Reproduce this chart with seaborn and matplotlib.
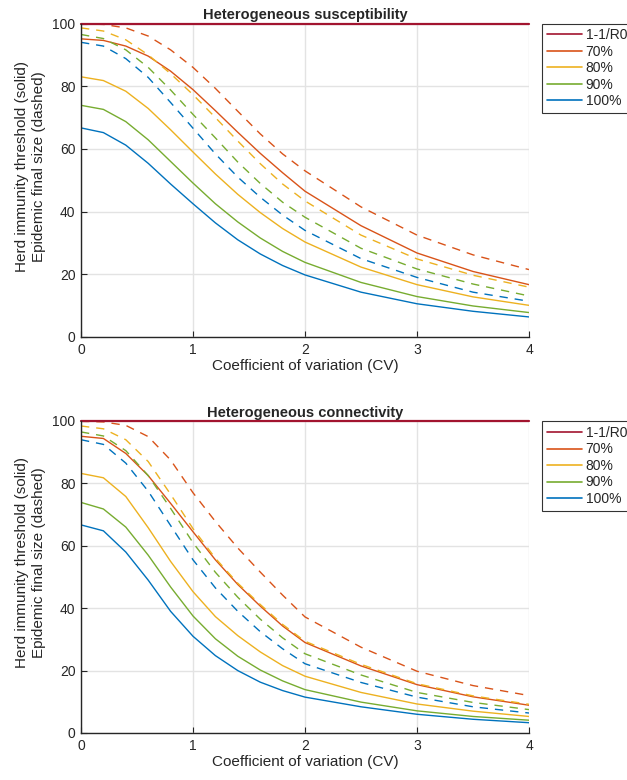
import matplotlib
matplotlib.use('Agg')
import pandas as pd
import matplotlib.pyplot as plt
from matplotlib.lines import Line2D
import seaborn as sns

# ── data ──────────────────────────────────────────────────────────────────────
cv = [0.0, 0.2, 0.4, 0.6, 0.8, 1.0, 1.2, 1.4, 1.6, 1.8, 2.0, 2.5, 3.0, 3.5, 4.0]
levels = ['70%', '80%', '90%', '100%']
limit_label = '1-1/R0'
limit = [100, 100, 100, 100, 100, 100, 100, 100, 100, 100, 100, 100, 100, 100, 100]

# heterogeneous susceptibility: herd immunity threshold (solid)
sus_hit_70  = [95.1, 94.6, 92.8, 89.6, 84.8, 78.9, 72.2, 65.3, 58.6, 52.4, 46.5, 35.5, 26.8, 20.9, 16.7]
sus_hit_80  = [83.0, 81.8, 78.4, 72.9, 66.1, 59.0, 52.0, 45.5, 39.7, 34.6, 30.3, 22.3, 16.7, 12.8, 10.1]
sus_hit_90  = [73.9, 72.6, 68.7, 62.9, 56.0, 49.1, 42.5, 36.7, 31.6, 27.3, 23.8, 17.4, 12.9, 9.9, 7.8]
sus_hit_100 = [66.7, 65.2, 61.2, 55.4, 48.8, 42.5, 36.4, 31.0, 26.5, 22.8, 19.8, 14.3, 10.6, 8.2, 6.4]
# heterogeneous susceptibility: epidemic final size (dashed)
sus_fs_70  = [99.9, 99.7, 98.6, 96.0, 91.6, 86.0, 79.3, 72.0, 64.8, 58.4, 53.0, 41.5, 32.5, 26.2, 21.5]
sus_fs_80  = [98.6, 97.6, 94.8, 90.0, 84.0, 77.3, 70.0, 62.5, 55.3, 48.8, 43.4, 32.5, 24.9, 19.7, 15.9]
sus_fs_90  = [96.5, 95.2, 91.6, 86.0, 78.8, 71.0, 63.5, 55.8, 49.0, 43.0, 38.2, 28.3, 21.7, 16.9, 13.1]
sus_fs_100 = [94.0, 92.8, 88.8, 82.8, 74.8, 66.6, 58.4, 51.0, 44.6, 38.9, 34.0, 25.0, 19.0, 14.3, 11.4]

# heterogeneous connectivity: herd immunity threshold (solid)
con_hit_70  = [95.1, 94.4, 89.6, 82.5, 73.6, 64.5, 55.5, 47.6, 40.7, 34.3, 29.0, 21.5, 15.5, 11.6, 8.9]
con_hit_80  = [83.2, 81.8, 75.8, 65.8, 55.0, 45.3, 37.3, 31.2, 26.0, 21.6, 18.2, 13.0, 9.3, 7.0, 5.3]
con_hit_90  = [73.9, 71.8, 66.0, 57.0, 46.8, 37.5, 30.2, 24.6, 20.2, 16.7, 13.9, 9.9, 7.1, 5.3, 4.1]
con_hit_100 = [66.7, 64.8, 58.0, 49.0, 39.0, 31.0, 24.8, 20.0, 16.3, 13.6, 11.5, 8.4, 6.0, 4.4, 3.3]
# heterogeneous connectivity: epidemic final size (dashed)
con_fs_70  = [99.9, 99.7, 98.6, 95.0, 87.5, 77.0, 67.8, 59.3, 51.6, 44.2, 37.2, 27.5, 19.8, 15.2, 12.0]
con_fs_80  = [98.4, 97.5, 94.0, 87.0, 76.5, 65.5, 56.0, 48.0, 41.2, 34.8, 29.4, 22.0, 15.8, 11.9, 9.2]
con_fs_90  = [96.5, 95.2, 90.5, 82.5, 72.0, 61.0, 51.5, 43.5, 36.5, 30.5, 25.4, 18.6, 13.0, 9.8, 7.5]
con_fs_100 = [94.0, 92.5, 86.5, 77.5, 66.5, 55.5, 46.5, 39.0, 32.5, 27.0, 22.2, 16.2, 11.5, 8.4, 6.4]

# MATLAB default colours
red = '#A2142F'
palette = {'70%': '#D95319', '80%': '#EDB120', '90%': '#77AC30', '100%': '#0072BD'}

sns.set_theme(style='whitegrid')
plt.rcParams['font.family'] = ['Liberation Sans', 'DejaVu Sans']
plt.rcParams['axes.edgecolor'] = '#262626'
plt.rcParams['grid.color'] = '#e3e3e3'
plt.rcParams['grid.linewidth'] = 1.0


def long_table(hit, fs):
    rows = []
    for lev, h_vals, f_vals in zip(levels, hit, fs):
        for x, h, f in zip(cv, h_vals, f_vals):
            rows.append((x, h, lev, 'solid'))
            rows.append((x, f, lev, 'dashed'))
    return pd.DataFrame(rows, columns=['cv', 'value', 'level', 'kind'])


def draw(ax, hit, fs, title):
    df = long_table(hit, fs)
    sns.lineplot(data=df, x='cv', y='value', hue='level', style='kind',
                 hue_order=levels, style_order=['solid', 'dashed'],
                 palette=palette, dashes={'solid': '', 'dashed': (6, 5)},
                 estimator=None, linewidth=1.0, legend=False, ax=ax)
    sns.lineplot(x=cv, y=limit, color=red, linewidth=1.6, ax=ax)
    ax.lines[-1].set_clip_on(False)

    ax.set_xlim(0, 4)
    ax.set_ylim(0, 100)
    ax.set_xticks([0, 1, 2, 3, 4])
    ax.set_yticks([0, 20, 40, 60, 80, 100])
    ax.tick_params(direction='in', length=4, width=0.8, colors='#262626',
                   labelsize=10, left=True, bottom=True, pad=4)
    ax.grid(True)
    for side in ['top', 'right']:
        ax.spines[side].set_visible(False)
    for side in ['left', 'bottom']:
        ax.spines[side].set_linewidth(1.0)
        ax.spines[side].set_color('#262626')
    ax.set_xlabel('Coefficient of variation (CV)', fontsize=11, color='#262626', labelpad=2)
    ax.set_ylabel('Herd immunity threshold (solid)\nEpidemic final size (dashed)',
                  fontsize=11, color='#262626', linespacing=1.3)
    ax.yaxis.set_label_coords(-0.078, 0.545)
    ax.set_title(title, fontsize=10.5, fontweight='bold', pad=3)

    handles = [Line2D([], [], color=red, lw=1.2)]
    handles += [Line2D([], [], color=palette[lev], lw=1.2) for lev in levels]
    leg = ax.legend(handles, [limit_label] + levels, loc='upper left',
                    bbox_to_anchor=(1.029, 1.0), borderaxespad=0, fontsize=10,
                    handlelength=2.5, handletextpad=0.3, labelspacing=0.18,
                    borderpad=0.35, frameon=True, fancybox=False)
    leg.get_frame().set_edgecolor('black')
    leg.get_frame().set_linewidth(0.8)


fig = plt.figure(figsize=(6.27, 7.8), dpi=100)
ax1 = fig.add_axes([81 / 627, 1 - 337 / 780, 448 / 627, 313.5 / 780])
ax2 = fig.add_axes([81 / 627, 1 - 733 / 780, 448 / 627, 312 / 780])

draw(ax1, [sus_hit_70, sus_hit_80, sus_hit_90, sus_hit_100],
     [sus_fs_70, sus_fs_80, sus_fs_90, sus_fs_100], 'Heterogeneous susceptibility')
draw(ax2, [con_hit_70, con_hit_80, con_hit_90, con_hit_100],
     [con_fs_70, con_fs_80, con_fs_90, con_fs_100], 'Heterogeneous connectivity')

fig.savefig('out.png', dpi=100, facecolor='white')
